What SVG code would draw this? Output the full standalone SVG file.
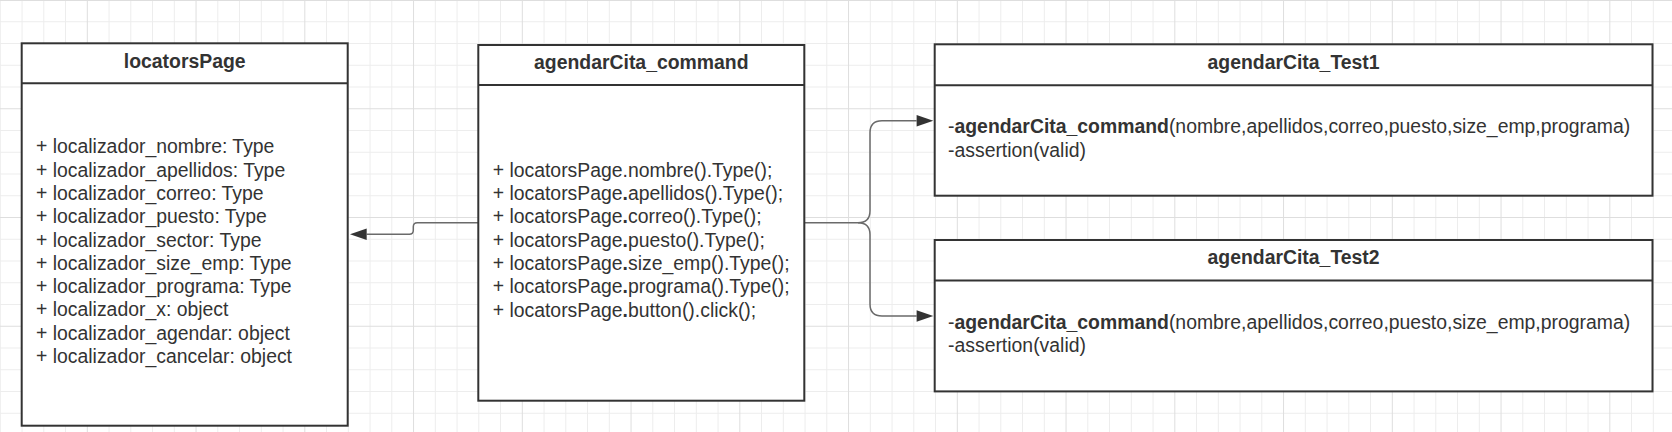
<svg xmlns="http://www.w3.org/2000/svg" width="1672" height="432" viewBox="0 0 1672 432">
<defs>
<style>
.gmin{stroke:#ededed;stroke-width:1;fill:none}
.gmaj{stroke:#dedede;stroke-width:1;fill:none}
.box{fill:#ffffff;stroke:#333333;stroke-width:2}
.div{stroke:#333333;stroke-width:2}
.title{font-family:"Liberation Sans",Arial,sans-serif;font-size:19.4px;font-weight:bold;fill:#333333;text-anchor:middle}
.body{font-family:"Liberation Sans",Arial,sans-serif;font-size:19.4px;fill:#333333}
.b{font-weight:bold}
.conn{fill:none;stroke:#6a6a6a;stroke-width:1.5}
</style>
<marker id="arrow" markerUnits="userSpaceOnUse" markerWidth="17" markerHeight="12" refX="0" refY="5.7" orient="auto" overflow="visible">
<path d="M0,0 L16.7,5.7 L0,11.4 Z" fill="#333333"/>
</marker>
</defs>
<rect x="0" y="0" width="1672" height="432" fill="#ffffff"/>
<g id="grid">
<path class="gmin" d="M0.3 0V432M22.05 0V432M43.8 0V432M65.55 0V432M109.05 0V432M130.8 0V432M152.55 0V432M174.3 0V432M217.8 0V432M239.55 0V432M261.3 0V432M283.05 0V432M326.55 0V432M348.3 0V432M370.05 0V432M391.8 0V432M435.3 0V432M457.05 0V432M478.8 0V432M500.55 0V432M544.05 0V432M565.8 0V432M587.55 0V432M609.3 0V432M652.8 0V432M674.55 0V432M696.3 0V432M718.05 0V432M761.55 0V432M783.3 0V432M805.05 0V432M826.8 0V432M870.3 0V432M892.05 0V432M913.8 0V432M935.55 0V432M979.05 0V432M1000.8 0V432M1022.55 0V432M1044.3 0V432M1087.8 0V432M1109.55 0V432M1131.3 0V432M1153.05 0V432M1196.55 0V432M1218.3 0V432M1240.05 0V432M1261.8 0V432M1305.3 0V432M1327.05 0V432M1348.8 0V432M1370.55 0V432M1414.05 0V432M1435.8 0V432M1457.55 0V432M1479.3 0V432M1522.8 0V432M1544.55 0V432M1566.3 0V432M1588.05 0V432M1631.55 0V432M1653.3 0V432M0 21.75H1672M0 43.5H1672M0 65.25H1672M0 87H1672M0 130.5H1672M0 152.25H1672M0 174H1672M0 195.75H1672M0 239.25H1672M0 261H1672M0 282.75H1672M0 304.5H1672M0 348H1672M0 369.75H1672M0 391.5H1672M0 413.25H1672"/>
<path class="gmaj" d="M87.3 0V432M196.05 0V432M304.8 0V432M413.55 0V432M522.3 0V432M631.05 0V432M739.8 0V432M848.55 0V432M957.3 0V432M1066.05 0V432M1174.8 0V432M1283.55 0V432M1392.3 0V432M1501.05 0V432M1609.8 0V432M0 0.5H1672M0 108.75H1672M0 217.5H1672M0 326.25H1672"/>
</g>
<g id="connectors">
<path class="conn" d="M478.3,222.7 H417.3 Q413.3,222.7 413.3,226.7 V230.3 Q413.3,234.3 409.3,234.3 H366.7" marker-end="url(#arrow)"/>
<path class="conn" d="M804.3,222.7 H858 Q870,222.7 870,210.7 V132.7 Q870,120.7 882,120.7 H916.6" marker-end="url(#arrow)"/>
<path class="conn" d="M858,222.7 Q870,222.7 870,234.7 V304 Q870,316 882,316 H916.6" marker-end="url(#arrow)"/>
</g>
<g id="locatorsPage">
<rect class="box" x="21.7" y="43.3" width="326" height="382.4"/>
<line class="div" x1="21.7" y1="83.3" x2="347.7" y2="83.3"/>
<text class="title" x="184.7" y="67.7">locatorsPage</text>
<text class="body">
<tspan x="36" y="153.3">+ localizador_nombre: Type</tspan>
<tspan x="36" y="176.6">+ localizador_apellidos: Type</tspan>
<tspan x="36" y="199.9">+ localizador_correo: Type</tspan>
<tspan x="36" y="223.2">+ localizador_puesto: Type</tspan>
<tspan x="36" y="246.5">+ localizador_sector: Type</tspan>
<tspan x="36" y="269.8">+ localizador_size_emp: Type</tspan>
<tspan x="36" y="293.1">+ localizador_programa: Type</tspan>
<tspan x="36" y="316.4">+ localizador_x: object</tspan>
<tspan x="36" y="339.7">+ localizador_agendar: object</tspan>
<tspan x="36" y="363">+ localizador_cancelar: object</tspan>
</text>
</g>
<g id="agendarCita_command">
<rect class="box" x="478.3" y="45" width="326" height="355.7"/>
<line class="div" x1="478.3" y1="85" x2="804.3" y2="85"/>
<text class="title" x="641.3" y="69.2">agendarCita_command</text>
<text class="body">
<tspan x="492.7" y="176.7">+ locatorsPage.nombre().Type();</tspan>
<tspan x="492.7" y="200">+ locatorsPage<tspan class="b">.</tspan>apellidos().Type();</tspan>
<tspan x="492.7" y="223.3">+ locatorsPage<tspan class="b">.</tspan>correo().Type();</tspan>
<tspan x="492.7" y="246.6">+ locatorsPage<tspan class="b">.</tspan>puesto().Type();</tspan>
<tspan x="492.7" y="269.9">+ locatorsPage<tspan class="b">.</tspan>size_emp().Type();</tspan>
<tspan x="492.7" y="293.2">+ locatorsPage<tspan class="b">.</tspan>programa().Type();</tspan>
<tspan x="492.7" y="316.5">+ locatorsPage<tspan class="b">.</tspan>button().click();</tspan>
</text>
</g>
<g id="agendarCita_Test1">
<rect class="box" x="934.7" y="44.3" width="717.8" height="151.4"/>
<line class="div" x1="934.7" y1="85.3" x2="1652.5" y2="85.3"/>
<text class="title" x="1293.6" y="68.7">agendarCita_Test1</text>
<text class="body">
<tspan x="948" y="133.3">-<tspan class="b">agendarCita_command</tspan>(nombre,apellidos,correo,puesto,size_emp,programa)</tspan>
<tspan x="948" y="156.6">-assertion(valid)</tspan>
</text>
</g>
<g id="agendarCita_Test2">
<rect class="box" x="934.7" y="240" width="717.8" height="151.4"/>
<line class="div" x1="934.7" y1="280.5" x2="1652.5" y2="280.5"/>
<text class="title" x="1293.6" y="264.4">agendarCita_Test2</text>
<text class="body">
<tspan x="948" y="328.8">-<tspan class="b">agendarCita_command</tspan>(nombre,apellidos,correo,puesto,size_emp,programa)</tspan>
<tspan x="948" y="352.1">-assertion(valid)</tspan>
</text>
</g>
</svg>
